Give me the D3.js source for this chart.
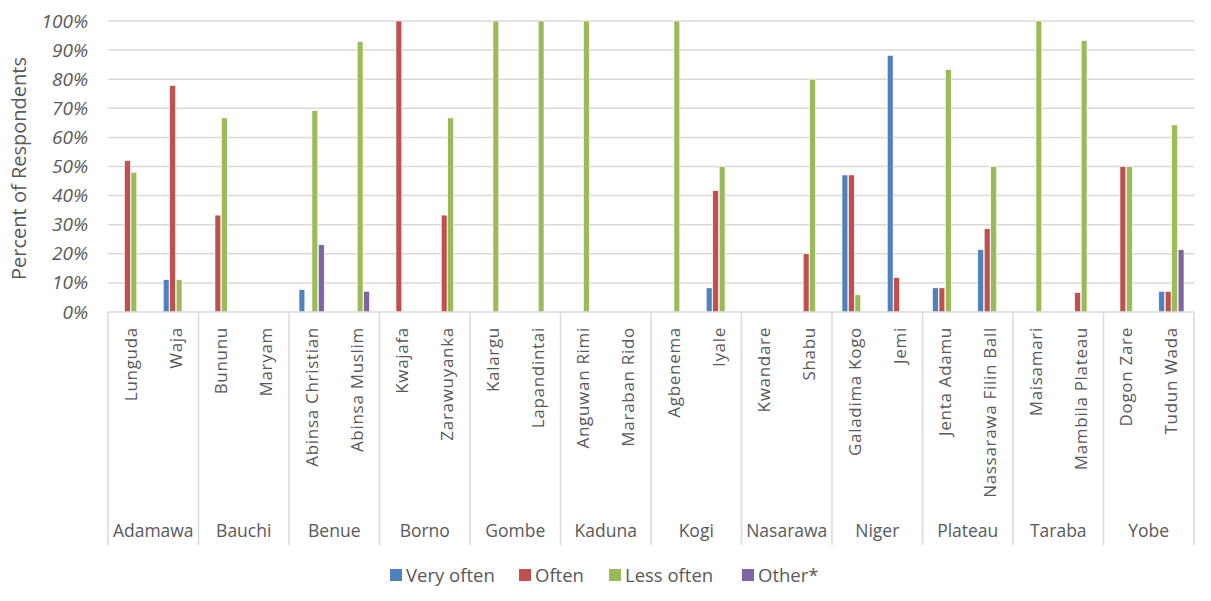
<!DOCTYPE html>
<html><head><meta charset="utf-8">
<script src="https://cdn.jsdelivr.net/npm/d3@7"></script>
<style>body{margin:0;background:#fff}svg{display:block}text{font-family:"Open Sans","Liberation Sans",sans-serif;fill:#595959}</style>
</head><body><svg id="c" width="1211" height="601"></svg>
<script>
const states = ["Adamawa","Bauchi","Benue","Borno","Gombe","Kaduna","Kogi","Nasarawa","Niger","Plateau","Taraba","Yobe"];
const communities = ["Lunguda","Waja","Bununu","Maryam","Abinsa Christian","Abinsa Muslim","Kwajafa","Zarawuyanka","Kalargu","Lapandintai","Anguwan Rimi","Maraban Rido","Agbenema","Iyale","Kwandare","Shabu","Galadima Kogo","Jemi","Jenta Adamu","Nassarawa Filin Ball","Maisamari","Mambila Plateau","Dogon Zare","Tudun Wada"];
const seriesNames = ["Very often","Often","Less often","Other*"];
const veryOften = [0,11.1,0,0,7.7,0,0,0,0,0,0,0,0,8.3,0,0,47.1,88.2,8.3,21.4,0,0,0,7.1];
const often     = [52,77.8,33.3,0,0,0,100,33.3,0,0,0,0,0,41.7,0,20,47.1,11.8,8.3,28.6,0,6.7,50,7.1];
const lessOften = [48,11.1,66.7,0,69.2,92.9,0,66.7,100,100,100,0,100,50,0,80,5.9,0,83.3,50,100,93.3,50,64.3];
const other     = [0,0,0,0,23.1,7.1,0,0,0,0,0,0,0,0,0,0,0,0,0,0,0,0,0,21.4];
const yTicks = [0,10,20,30,40,50,60,70,80,90,100];
const colors = ["#4F81BD","#C0504D","#9BBB59","#8064A2"];
const seriesVals = [veryOften, often, lessOften, other];

const svg = d3.select("#c");
const L=108, R=1194, T=21, B=312;
const x = d3.scaleBand().domain(communities).range([L,R]).paddingInner(0).paddingOuter(0);
const xi = d3.scaleBand().domain(seriesNames).range([0,x.bandwidth()]).paddingInner(0.1).paddingOuter(1.55);
const y = d3.scaleLinear().domain([0,100]).range([B,T]);

// gridlines
svg.append("g").selectAll("line").data(yTicks.slice(1)).join("line")
  .attr("x1",L).attr("x2",R).attr("y1",d=>y(d)).attr("y2",d=>y(d))
  .attr("stroke","#d9d9d9").attr("stroke-width",1.5);

// y axis labels
const ya = svg.append("g").attr("transform",`translate(${L},0)`)
  .call(d3.axisLeft(y).tickValues(yTicks).tickFormat(d=>d+"%").tickSize(0).tickPadding(20));
ya.select(".domain").remove();
ya.selectAll("text").style("font-size","19px").style("font-style","italic").attr("fill","#595959")
  .style("font-family","'Open Sans',sans-serif");

svg.append("text").attr("transform",`translate(26,${(T+B)/2+2}) rotate(-90)`)
  .attr("text-anchor","middle").style("font-size","20px").text("Percent of Respondents");

// bars
const rows = communities.map((c,i)=>({c, vals: seriesVals.map((s,k)=>({k, name:seriesNames[k], v:s[i]}))}));
const g = svg.append("g").selectAll("g").data(rows).join("g").attr("transform",d=>`translate(${x(d.c)},0)`);
g.selectAll("rect").data(d=>d.vals.filter(v=>v.v>0)).join("rect")
  .attr("x",d=>xi(d.name)).attr("width",xi.bandwidth())
  .attr("y",d=>y(d.v)).attr("height",d=>B-y(d.v))
  .attr("fill",d=>colors[d.k]).attr("stroke","#fff").attr("stroke-width",0.6);

// x axis baseline
svg.append("line").attr("x1",L).attr("x2",R).attr("y1",B).attr("y2",B).attr("stroke","#d9d9d9").attr("stroke-width",1.5);

// state separators
const bounds = d3.range(0, communities.length+1, 2);
svg.append("g").selectAll("line").data(bounds).join("line")
  .attr("x1",i=>L+i*x.bandwidth()).attr("x2",i=>L+i*x.bandwidth())
  .attr("y1",B).attr("y2",545).attr("stroke","#d9d9d9").attr("stroke-width",1.5);

// community labels
svg.append("g").selectAll("text").data(communities).join("text")
  .attr("transform",d=>`translate(${x(d)+x.bandwidth()/2+6},327) rotate(-90)`)
  .attr("text-anchor","end").style("font-size","17px").style("letter-spacing","0.7px").text(d=>d);

// state labels
svg.append("g").selectAll("text").data(states).join("text")
  .attr("x",(d,i)=>L+(i*2+1)*x.bandwidth()).attr("y",537)
  .attr("text-anchor","middle").style("font-size","17.5px").text(d=>d);

// legend
const legX = [390,519,609,742];
const lg = svg.append("g").selectAll("g").data(seriesNames).join("g").attr("transform",(d,i)=>`translate(${legX[i]},575)`);
lg.append("rect").attr("x",0).attr("y",-6).attr("width",12).attr("height",12).attr("fill",(d,i)=>colors[i]);
lg.append("text").attr("x",16).attr("y",6.5).style("font-size","18.5px").text(d=>d);
</script></body></html>
